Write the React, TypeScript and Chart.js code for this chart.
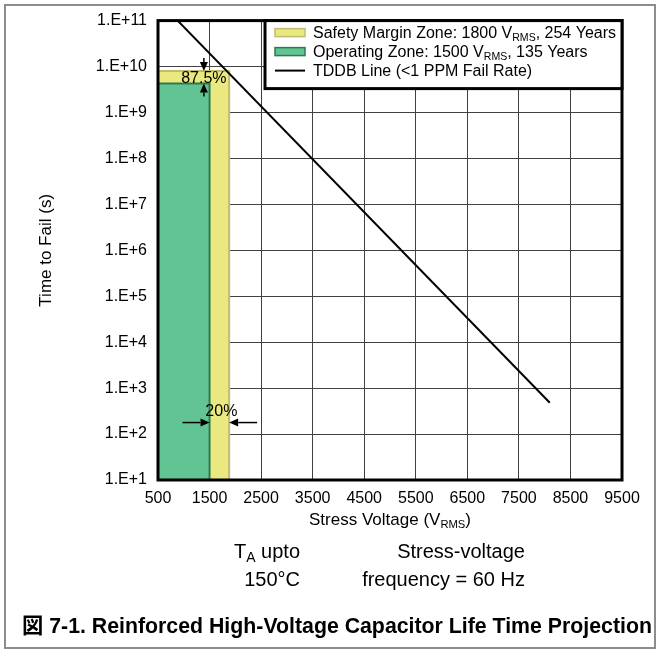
import React, { useEffect, useRef } from "react";
import { Chart, registerables } from "chart.js";

Chart.register(...registerables);

const FONT = '"Liberation Sans", Arial, Helvetica, "Noto Sans CJK JP", sans-serif';

// ---- data ----
const xTickValues = [500, 1500, 2500, 3500, 4500, 5500, 6500, 7500, 8500, 9500];
const yTickExponents = [1, 2, 3, 4, 5, 6, 7, 8, 9, 10, 11];

const safetyZone = [
  { x: 500, y: 8.0e9 },
  { x: 1880, y: 8.0e9 },
  { x: 1880, y: 10 },
];
const operatingZone = [
  { x: 500, y: 4.26e9 },
  { x: 1500, y: 4.26e9 },
  { x: 1500, y: 10 },
];
const tddbLine = [
  { x: 880, y: 1e11 },
  { x: 8100, y: 480 },
];

// annotation anchors (data units)
const marginArrowX = 1390;
const voltageArrowY = 178;

type Part = { t: string; sub?: boolean };
const legendItems: { kind: "box" | "line"; fill?: string; stroke: string; parts: Part[] }[] = [
  {
    kind: "box",
    fill: "#e9e97f",
    stroke: "#c2bb72",
    parts: [{ t: "Safety Margin Zone: 1800 V" }, { t: "RMS", sub: true }, { t: ", 254 Years" }],
  },
  {
    kind: "box",
    fill: "#62c492",
    stroke: "#2e7a50",
    parts: [{ t: "Operating Zone: 1500 V" }, { t: "RMS", sub: true }, { t: ", 135 Years" }],
  },
  { kind: "line", stroke: "#000", parts: [{ t: "TDDB Line (<1 PPM Fail Rate)" }] },
];
const xTitleParts: Part[] = [{ t: "Stress Voltage (V" }, { t: "RMS", sub: true }, { t: ")" }];
const yTitle = "Time to Fail (s)";

function richWidth(ctx: CanvasRenderingContext2D, parts: Part[], size: number) {
  let w = 0;
  for (const p of parts) {
    ctx.font = `${p.sub ? size * 0.66 : size}px ${FONT}`;
    w += ctx.measureText(p.t).width;
  }
  return w;
}
function drawRich(ctx: CanvasRenderingContext2D, parts: Part[], x: number, baseline: number, size: number) {
  let cx = x;
  ctx.textAlign = "left";
  ctx.textBaseline = "alphabetic";
  for (const p of parts) {
    ctx.font = `${p.sub ? size * 0.66 : size}px ${FONT}`;
    ctx.fillText(p.t, cx, p.sub ? baseline + 3 : baseline);
    cx += ctx.measureText(p.t).width;
  }
}
function arrow(ctx: CanvasRenderingContext2D, x1: number, y1: number, x2: number, y2: number) {
  const ang = Math.atan2(y2 - y1, x2 - x1);
  const head = 9;
  const hw = 4;
  const c = Math.cos(ang);
  const s = Math.sin(ang);
  const bx = x2 - head * c;
  const by = y2 - head * s;
  ctx.lineWidth = 1.5;
  ctx.beginPath();
  ctx.moveTo(x1, y1);
  ctx.lineTo(bx, by);
  ctx.stroke();
  ctx.beginPath();
  ctx.moveTo(x2, y2);
  ctx.lineTo(bx + hw * s, by - hw * c);
  ctx.lineTo(bx - hw * s, by + hw * c);
  ctx.closePath();
  ctx.fill();
}

const overlayPlugin = {
  id: "overlay",
  afterDatasetsDraw(chart: any) {
    const { ctx, chartArea: a, scales } = chart;
    const x = scales.x;
    const y = scales.y;
    ctx.save();
    ctx.fillStyle = "#000";
    ctx.strokeStyle = "#000";

    // annotations: 87.5%
    const ax = x.getPixelForValue(marginArrowX);
    const ySafe = y.getPixelForValue(safetyZone[0].y);
    const yOper = y.getPixelForValue(operatingZone[0].y);
    arrow(ctx, ax, ySafe - 13, ax, ySafe);
    arrow(ctx, ax, yOper + 13, ax, yOper);
    ctx.font = `16px ${FONT}`;
    ctx.textAlign = "center";
    ctx.textBaseline = "middle";
    ctx.fillText("87.5%", ax, (ySafe + yOper) / 2 + 1);

    // annotations: 20%
    const vy = y.getPixelForValue(voltageArrowY);
    const xOper = x.getPixelForValue(operatingZone[1].x);
    const xSafe = x.getPixelForValue(safetyZone[1].x);
    arrow(ctx, xOper - 27, vy, xOper, vy);
    arrow(ctx, xSafe + 28, vy, xSafe, vy);
    ctx.font = `16px ${FONT}`;
    ctx.textAlign = "center";
    ctx.textBaseline = "middle";
    ctx.fillText("20%", (xOper + xSafe) / 2 + 2, vy - 11);

    // plot border
    ctx.lineWidth = 3;
    ctx.strokeRect(a.left, a.top, a.right - a.left, a.bottom - a.top);

    // legend
    const lx = a.right - 357;
    const ly = a.top;
    const lw = 357;
    const lh = 68;
    ctx.fillStyle = "#fff";
    ctx.fillRect(lx, ly, lw, lh);
    ctx.lineWidth = 3;
    ctx.strokeStyle = "#000";
    ctx.strokeRect(lx, ly, lw, lh);
    legendItems.forEach((it, i) => {
      const cy = ly + 12 + i * 19;
      if (it.kind === "box") {
        ctx.fillStyle = it.fill!;
        ctx.fillRect(lx + 10, cy - 4, 30, 8);
        ctx.lineWidth = 1.5;
        ctx.strokeStyle = it.stroke;
        ctx.strokeRect(lx + 10, cy - 4, 30, 8);
      } else {
        ctx.lineWidth = 2;
        ctx.strokeStyle = it.stroke;
        ctx.beginPath();
        ctx.moveTo(lx + 10, cy);
        ctx.lineTo(lx + 40, cy);
        ctx.stroke();
      }
      ctx.fillStyle = "#000";
      drawRich(ctx, it.parts, lx + 48, cy + 5.5, 16);
    });

    // axis titles
    ctx.fillStyle = "#000";
    const tw = richWidth(ctx, xTitleParts, 17);
    drawRich(ctx, xTitleParts, (a.left + a.right) / 2 - tw / 2, a.bottom + 45, 17);
    ctx.save();
    ctx.translate(46, (a.top + a.bottom) / 2);
    ctx.rotate(-Math.PI / 2);
    ctx.font = `17px ${FONT}`;
    ctx.textAlign = "center";
    ctx.textBaseline = "middle";
    ctx.fillText(yTitle, 0, 0);
    ctx.restore();

    ctx.restore();
  },
};

export default function App() {
  const ref = useRef<HTMLCanvasElement | null>(null);
  useEffect(() => {
    if (!ref.current) return;
    const tickFont = { family: FONT, size: 16 };
    const chart = new Chart(ref.current, {
      type: "scatter",
      data: {
        datasets: [
          {
            label: "TDDB Line",
            data: tddbLine,
            showLine: true,
            borderColor: "#000",
            borderWidth: 2,
            pointRadius: 0,
            fill: false,
            order: 1,
          },
          {
            label: "Operating Zone",
            data: operatingZone,
            showLine: true,
            borderColor: "#2e7a50",
            borderWidth: 2,
            backgroundColor: "#62c492",
            fill: "start",
            pointRadius: 0,
            order: 2,
          },
          {
            label: "Safety Margin Zone",
            data: safetyZone,
            showLine: true,
            borderColor: "#c2bb72",
            borderWidth: 2,
            backgroundColor: "#e9e97f",
            fill: "start",
            pointRadius: 0,
            order: 3,
          },
        ],
      },
      options: {
        animation: false,
        responsive: false,
        events: [],
        layout: { padding: { left: 0, top: 20, right: 39, bottom: 130 } },
        plugins: { legend: { display: false }, tooltip: { enabled: false } },
        scales: {
          x: {
            type: "linear",
            min: 500,
            max: 9500,
            afterFit: (s: any) => {
              s.height = 40;
            },
            afterBuildTicks: (s: any) => {
              s.ticks = xTickValues.map((v) => ({ value: v }));
            },
            ticks: {
              color: "#000",
              font: tickFont,
              padding: 9,
              maxRotation: 0,
              autoSkip: false,
              callback: (v: any) => String(v),
            },
            grid: { color: "#404040", lineWidth: 1, drawTicks: false },
            border: { display: false },
          },
          y: {
            type: "logarithmic",
            min: 10,
            max: 1e11,
            afterFit: (s: any) => {
              s.width = 158;
            },
            afterBuildTicks: (s: any) => {
              s.ticks = yTickExponents.map((e) => ({ value: Math.pow(10, e) }));
            },
            ticks: {
              color: "#000",
              font: tickFont,
              padding: 11,
              autoSkip: false,
              callback: (v: any) => "1.E+" + Math.round(Math.log10(Number(v))),
            },
            grid: { color: "#404040", lineWidth: 1, drawTicks: false },
            border: { display: false },
          },
        },
      },
      plugins: [overlayPlugin],
    } as any);
    return () => chart.destroy();
  }, []);

  const noteStyle: React.CSSProperties = {
    position: "absolute",
    fontFamily: FONT,
    fontSize: 20,
    lineHeight: "20px",
    color: "#000",
    whiteSpace: "nowrap",
    textAlign: "right",
  };

  return (
    <div style={{ position: "fixed", left: 0, top: 0, width: 661, height: 650, background: "#fff", overflow: "hidden" }}>
      <canvas ref={ref} width={661} height={650} style={{ position: "absolute", left: 0, top: 0, width: 661, height: 650 }} />
      <div style={{ ...noteStyle, right: 661 - 300, top: 541 }}>
        T<span style={{ fontSize: 14, position: "relative", top: 4 }}>A</span> upto
      </div>
      <div style={{ ...noteStyle, right: 661 - 525, top: 541 }}>Stress-voltage</div>
      <div style={{ ...noteStyle, right: 661 - 300, top: 569 }}>150°C</div>
      <div style={{ ...noteStyle, right: 661 - 525, top: 569 }}>frequency = 60 Hz</div>
      <div
        style={{
          position: "absolute",
          left: 22,
          top: 615,
          fontFamily: FONT,
          fontWeight: "bold",
          fontSize: 21.3,
          lineHeight: "22px",
          whiteSpace: "nowrap",
          color: "#000",
        }}
      >
        図 7-1. Reinforced High-Voltage Capacitor Life Time Projection
      </div>
      <div
        style={{
          position: "absolute",
          left: 4,
          top: 4,
          width: 652,
          height: 645,
          boxSizing: "border-box",
          border: "2px solid #8c8c8c",
          pointerEvents: "none",
        }}
      />
    </div>
  );
}
